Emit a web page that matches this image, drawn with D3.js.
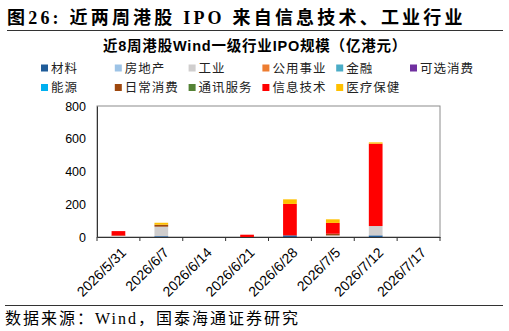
<!DOCTYPE html>
<html>
<head>
<meta charset="utf-8">
<script src="https://cdn.jsdelivr.net/npm/d3@7"></script>
<style>
body { margin: 0; background: #fff; }
svg { display: block; }
</style>
</head>
<body>
<div id="chart"></div>
<script>
var weeks = ["2026/5/31", "2026/6/7", "2026/6/14", "2026/6/21", "2026/6/28", "2026/7/5", "2026/7/12", "2026/7/17"];
var sectors = ["材料", "房地产", "工业", "公用事业", "金融", "可选消费", "能源", "日常消费", "通讯服务", "信息技术", "医疗保健"];
var sectorColors = ["#1f5c99", "#9dc3e6", "#d0cece", "#ed7d31", "#4bacc6", "#7030a0", "#00b0f0", "#9e480e", "#548235", "#ff0000", "#ffc000"];

// 亿港元, one array per sector, one value per week
var materials   = [0, 5, 0, 0, 10, 0, 10, 0];
var realEstate  = [0, 0, 0, 0, 0, 0, 0, 0];
var industrials = [6, 58, 0, 0, 0, 10, 57, 0];
var utilities   = [0, 0, 0, 0, 0, 0, 0, 0];
var financials  = [0, 0, 0, 0, 0, 0, 0, 0];
var consDiscr   = [0, 0, 0, 0, 0, 0, 0, 0];
var energy      = [0, 0, 0, 0, 0, 0, 0, 0];
var consStaples = [3, 12, 0, 0, 0, 10, 0, 0];
var telecom     = [0, 0, 0, 0, 0, 0, 0, 0];
var infoTech    = [27, 0, 0, 14, 192, 66, 503, 0];
var healthCare  = [0, 12, 0, 0, 28, 22, 8, 0];
var yTicks = [0, 200, 400, 600, 800];

var series = [materials, realEstate, industrials, utilities, financials, consDiscr, energy, consStaples, telecom, infoTech, healthCare];

var W = 509, H = 331;
var margin = {top: 106, right: 69, bottom: 94, left: 97};
var width = W - margin.left - margin.right;
var height = H - margin.top - margin.bottom;

var svg = d3.select("#chart").append("svg")
    .attr("width", W)
    .attr("height", H);

// title
svg.append("text")
    .attr("x", 7)
    .attr("y", 24)
    .style("font-family", "'Liberation Serif', 'Noto Sans CJK SC', serif")
    .style("font-size", "18px")
    .style("font-weight", "bold")
    .style("letter-spacing", "3.2px")
    .attr("fill", "#000")
    .text("图26:  近两周港股 IPO 来自信息技术、工业行业");

svg.append("line")
    .attr("x1", 7).attr("x2", 503)
    .attr("y1", 30.5).attr("y2", 30.5)
    .attr("stroke", "#333").attr("stroke-width", 1);

svg.append("text")
    .attr("x", 255)
    .attr("y", 51)
    .attr("text-anchor", "middle")
    .style("font-family", "'Liberation Sans', 'Noto Sans CJK SC', sans-serif")
    .style("font-size", "14.5px")
    .style("font-weight", "bold")
    .style("letter-spacing", "0.8px")
    .text("近8周港股Wind一级行业IPO规模（亿港元）");

// legend
var legend = svg.append("g");
sectors.forEach(function(name, i) {
    var col = i % 6, row = Math.floor(i / 6);
    var lx = 41 + col * 73.8, ly = 68 + row * 19.5;
    legend.append("rect")
        .attr("x", lx).attr("y", ly - 3.5)
        .attr("width", 7).attr("height", 7)
        .attr("fill", sectorColors[i]);
    legend.append("text")
        .attr("x", lx + 10).attr("y", ly)
        .attr("dy", "0.36em")
        .style("font-family", "'Noto Sans CJK SC', sans-serif")
        .style("font-size", "12.5px")
        .style("letter-spacing", "1px")
        .attr("fill", "#222")
        .text(name);
});

var g = svg.append("g")
    .attr("transform", "translate(" + margin.left + "," + margin.top + ")");

var x = d3.scaleBand()
    .domain(weeks)
    .range([0, width]);
var y = d3.scaleLinear()
    .domain([0, 800])
    .range([height, 0]);

// frame
g.append("rect")
    .attr("x", 0).attr("y", 0)
    .attr("width", width).attr("height", height)
    .attr("fill", "none")
    .attr("stroke", "#8c8c8c");

var table = weeks.map(function(w, j) {
    var row = {week: w};
    sectors.forEach(function(s, i) { row[s] = series[i][j]; });
    return row;
});
var stacked = d3.stack().keys(sectors)(table);

var barW = x.bandwidth() * 0.32;
g.selectAll(".layer")
    .data(stacked)
    .enter().append("g")
    .attr("class", "layer")
    .attr("fill", function(d, i) { return sectorColors[i]; })
    .selectAll("rect")
    .data(function(d) { return d; })
    .enter().append("rect")
    .attr("x", function(d) { return x(d.data.week) + (x.bandwidth() - barW) / 2; })
    .attr("width", barW)
    .attr("y", function(d) { return y(d[1]); })
    .attr("height", function(d) { return y(d[0]) - y(d[1]); });

// y axis
var yAxis = g.append("g")
    .call(d3.axisLeft(y).tickValues(yTicks).tickSize(0).tickPadding(11));
yAxis.select(".domain").attr("stroke", "#333");
yAxis.selectAll("text")
    .style("font-family", "'Liberation Sans', Arial, sans-serif")
    .style("font-size", "12.5px")
    .attr("fill", "#000");

// x axis
var xAxis = g.append("g")
    .attr("transform", "translate(0," + height + ")")
    .call(d3.axisBottom(x).tickSize(0).tickPadding(0));
xAxis.select(".domain").attr("stroke", "#333");
xAxis.selectAll("text")
    .attr("text-anchor", "end")
    .attr("transform", "translate(5,13) rotate(-45)")
    .attr("dy", "0.35em")
    .attr("y", 0)
    .style("font-family", "'Liberation Sans', Arial, sans-serif")
    .style("font-size", "14px")
    .attr("fill", "#000");

// boundary ticks between weeks
g.selectAll(".bt")
    .data(d3.range(weeks.length + 1))
    .enter().append("line")
    .attr("class", "bt")
    .attr("x1", function(i) { return i * x.step(); })
    .attr("x2", function(i) { return i * x.step(); })
    .attr("y1", height)
    .attr("y2", height + 4)
    .attr("stroke", "#333");

// footer
svg.append("line")
    .attr("x1", 5).attr("x2", 503)
    .attr("y1", 305.5).attr("y2", 305.5)
    .attr("stroke", "#333").attr("stroke-width", 1);

svg.append("text")
    .attr("x", 5)
    .attr("y", 324)
    .style("font-family", "'Liberation Serif', 'Noto Sans CJK SC', serif")
    .style("font-size", "16px")
    .style("letter-spacing", "2px")
    .attr("fill", "#000")
    .text("数据来源：Wind，国泰海通证券研究");
</script>
</body>
</html>
